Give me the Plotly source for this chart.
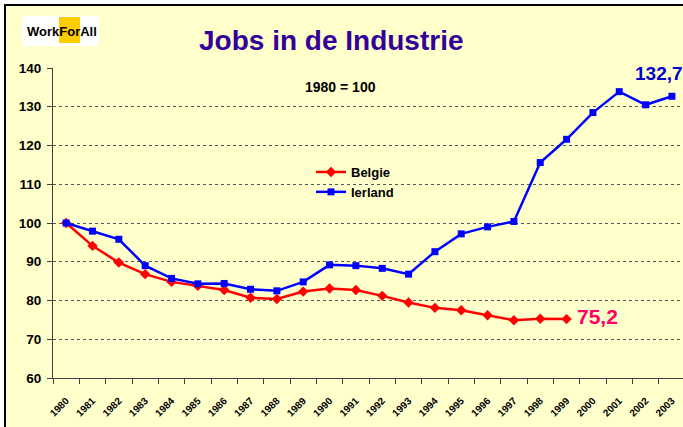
import plotly.graph_objects as go

years = [str(y) for y in range(1980, 2004)]
belgie_years = years[:20]
belgie = [100, 94.1, 89.8, 86.8, 84.8, 83.8, 82.7, 80.7, 80.4, 82.3, 83.1, 82.7,
          81.2, 79.5, 78.1, 77.5, 76.2, 74.9, 75.3, 75.2]
ierland = [100, 97.9, 95.8, 89.0, 85.7, 84.3, 84.4, 82.9, 82.5, 84.8, 89.2, 89.0,
           88.3, 86.8, 92.6, 97.2, 99.0, 100.4, 115.6, 121.6, 128.5, 133.9, 130.5, 132.7]
y_ticks = [60, 70, 80, 90, 100, 110, 120, 130, 140]

W, H = 683, 427
L, T, B = 53, 68, 49
PW = W - L
PH = H - T - B

def px(x):
    return (x - L) / PW

def py(y):
    return (H - B - y) / PH

fig = go.Figure()
fig.add_trace(go.Scatter(x=belgie_years, y=belgie, name="<b>Belgie</b>", mode="lines+markers",
                         line=dict(color="#FF0000", width=2.5),
                         marker=dict(symbol="diamond", size=8, color="#FF0000")))
fig.add_trace(go.Scatter(x=years, y=ierland, name="<b>Ierland</b>", mode="lines+markers",
                         line=dict(color="#0000FF", width=2.5),
                         marker=dict(symbol="square", size=7, color="#0000FF")))

shapes = [
    dict(type="rect", xref="paper", yref="paper", x0=px(5), x1=px(700), y0=py(440), y1=py(5),
         fillcolor="#FFFFCC", line=dict(color="black", width=2), layer="below"),
    dict(type="rect", xref="paper", yref="paper", x0=px(22), x1=px(99), y0=py(46), y1=py(16),
         fillcolor="white", line=dict(width=0), layer="below"),
    dict(type="rect", xref="paper", yref="paper", x0=px(59), x1=px(80), y0=py(43), y1=py(17),
         fillcolor="#FFCC00", line=dict(width=0), layer="below"),
]

def ann(text, x, y, size, color, xanchor="center"):
    return dict(text=text, x=px(x), y=py(y), xref="paper", yref="paper",
                xanchor=xanchor, yanchor="middle", showarrow=False,
                font=dict(family="Arial", size=size, color=color))

annotations = [
    ann("<b>WorkForAll</b>", 62, 32, 13, "black"),
    ann("<b>Jobs in de Industrie</b>", 331, 40, 28, "#330099"),
    ann("<b>1980 = 100</b>", 340, 87, 14, "black"),
    ann("<b>75,2</b>", 575, 316, 21, "#FF0066", "left"),
    ann("<b>132,7</b>", 633, 73, 19, "#0000CC", "left"),
]

fig.update_layout(
    width=W, height=H,
    margin=dict(l=L, r=0, t=T, b=B, pad=0),
    paper_bgcolor="white",
    plot_bgcolor="rgba(0,0,0,0)",
    shapes=shapes,
    annotations=annotations,
    showlegend=True,
    legend=dict(x=px(311), y=py(157), xanchor="left", yanchor="top",
                bgcolor="rgba(0,0,0,0)", font=dict(family="Arial", size=13, color="black"),
                itemwidth=30, tracegroupgap=0),
    font=dict(family="Arial"),
)
fig.update_xaxes(type="category", categoryorder="array", categoryarray=years,
                 range=[-0.5, 23.42], tickson="boundaries", ticks="outside", ticklen=5,
                 tickcolor="#404040", showline=True, linecolor="#404040", linewidth=1,
                 showgrid=False, tickangle=-45, automargin=False, ticklabelstandoff=12,
                 tickfont=dict(family="Arial", size=10, color="black", weight="bold"))
fig.update_yaxes(range=[60, 140], tickvals=y_ticks, ticks="outside", ticklen=5,
                 tickcolor="#404040", showline=True, linecolor="#404040", linewidth=1,
                 showgrid=True, gridcolor="#555555", griddash="dot", gridwidth=1,
                 zeroline=False, automargin=False, ticklabelstandoff=3,
                 tickfont=dict(family="Arial", size=13.5, color="black", weight="bold"))

fig.write_html("out.html", config={"displayModeBar": False})
with open("out.html", "r", encoding="utf-8") as f:
    html = f.read()
html = html.replace("<head>", "<head><style>html,body{margin:0;padding:0;overflow:hidden;}</style>", 1)
with open("out.html", "w", encoding="utf-8") as f:
    f.write(html)
